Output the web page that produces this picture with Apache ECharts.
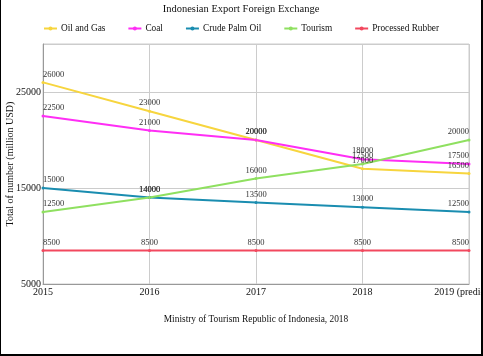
<!DOCTYPE html>
<html>
<head>
<meta charset="utf-8">
<script src="https://cdn.jsdelivr.net/npm/echarts@6/dist/echarts.min.js"></script>
<style>
  html, body { margin: 0; padding: 0; background: #000; }
  #chart { position: absolute; left: 1px; top: 0; width: 480px; height: 354px; background: #fff; }
</style>
</head>
<body>
<div id="chart"></div>
<script>
const years = ['2015', '2016', '2017', '2018', '2019 (prediction)'];
const oilGas = [26000, 23000, 20000, 17000, 16500];
const coal = [22500, 21000, 20000, 18000, 17500];
const palmOil = [15000, 14000, 13500, 13000, 12500];
const tourism = [12500, 14000, 16000, 17500, 20000];
const rubber = [8500, 8500, 8500, 8500, 8500];

const font = '"Liberation Serif", "DejaVu Serif", serif';

// first label sits to the right of the point, last one to the left
function points(values) {
  return values.map((v, i) => {
    let align = 'center';
    if (i === 0) align = 'left';
    if (i === values.length - 1) align = 'right';
    return { value: v, label: { align } };
  });
}

function line(name, values, color) {
  return {
    name,
    type: 'line',
    data: points(values),
    color,
    symbol: 'circle',
    symbolSize: 3,
    lineStyle: { width: 2, color },
    itemStyle: { color },
    label: {
      show: true,
      position: 'top',
      distance: 2,
      fontFamily: font,
      fontSize: 8.5,
      color: '#333'
    }
  };
}

const chart = echarts.init(document.getElementById('chart'));
chart.setOption({
  animation: false,
  textStyle: { fontFamily: font },
  title: {
    text: 'Indonesian Export Foreign Exchange',
    left: 'center',
    top: -1,
    textStyle: { fontFamily: font, fontSize: 10.5, fontWeight: 'normal', color: '#111' }
  },
  legend: {
    top: 19,
    left: 'center',
    itemWidth: 13,
    itemHeight: 5,
    itemGap: 22,
    textStyle: { fontFamily: font, fontSize: 9.3, color: '#111', padding: [0, 0, 0, -1] }
  },
  grid: {
    left: 42,
    right: 12,
    top: 44,
    bottom: 70,
    outerBoundsMode: 'none',
    containLabel: false,
    show: true,
    borderColor: '#ccc',
    borderWidth: 1
  },
  xAxis: {
    type: 'category',
    data: years,
    boundaryGap: false,
    name: 'Ministry of Tourism Republic of Indonesia, 2018',
    nameLocation: 'middle',
    nameGap: 31,
    nameMoveOverlap: false,
    nameTextStyle: { fontFamily: font, fontSize: 9.4, color: '#111' },
    axisLine: { lineStyle: { color: '#999' } },
    axisTick: { show: false },
    axisLabel: { interval: 0, fontFamily: font, fontSize: 10, color: '#111', margin: 3 },
    splitLine: { show: true, interval: 0, lineStyle: { color: '#ccc' } }
  },
  yAxis: {
    type: 'value',
    min: 5000,
    max: 30000,
    interval: 10000,
    name: 'Total of number (million USD)',
    nameLocation: 'middle',
    nameGap: 28,
    nameMoveOverlap: false,
    nameTextStyle: { fontFamily: font, fontSize: 10, color: '#111' },
    axisLine: { show: true, lineStyle: { color: '#999' } },
    axisTick: { show: false },
    axisLabel: {
      fontFamily: font, fontSize: 10, color: '#111', margin: 2, showMaxLabel: false,
      formatter: v => String(v)
    },
    splitLine: { show: true, lineStyle: { color: '#ccc' } }
  },
  series: [
    line('Oil and Gas', oilGas, '#f7d53e'),
    line('Coal', coal, '#ff2ef5'),
    line('Crude Palm Oil', palmOil, '#1a8db0'),
    line('Tourism', tourism, '#8fe060'),
    line('Processed Rubber', rubber, '#f2485e')
  ]
});
</script>
</body>
</html>
